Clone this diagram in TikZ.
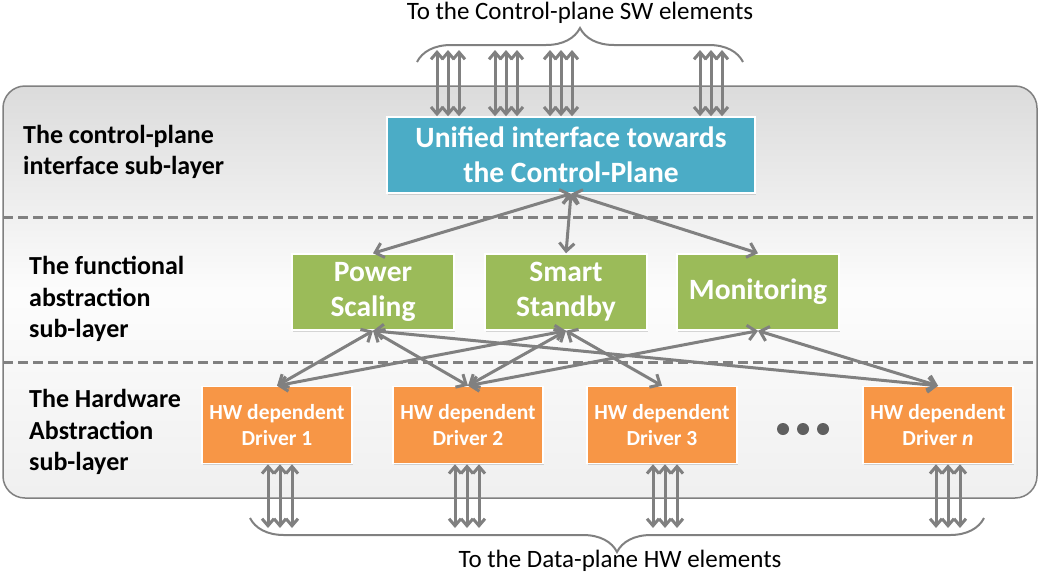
\documentclass[tikz,border=0pt]{standalone}
\usepackage{fontspec}
\setmainfont{Carlito}
\usetikzlibrary{arrows.meta,shadows,decorations.pathreplacing}
\definecolor{cpblue}{HTML}{4BACC6}
\definecolor{fagreen}{HTML}{9BBB59}
\definecolor{hworange}{HTML}{F79646}
\definecolor{linegray}{HTML}{808080}
\definecolor{dotgray}{HTML}{5F5F5F}

\begin{document}
\begin{tikzpicture}[x=1pt,y=-1pt,
  box/.style={draw=white,line width=1.5pt,text=white,align=center,inner sep=0pt,
    drop shadow={shadow xshift=1pt,shadow yshift=-1.5pt,opacity=.3}},
  cpbox/.style={box,fill=cpblue,minimum width=368pt,minimum height=76pt,
    font=\bfseries\fontsize{29.5}{35}\selectfont},
  fabox/.style={box,fill=fagreen,minimum width=162pt,minimum height=76pt,
    font=\bfseries\fontsize{29.5}{35}\selectfont},
  hwbox/.style={box,fill=hworange,minimum width=150pt,minimum height=77pt,
    font=\bfseries\fontsize{21.5}{26}\selectfont},
  layertxt/.style={anchor=west,align=left,inner sep=0pt,font=\bfseries\fontsize{26}{31.5}\selectfont},
  captext/.style={inner sep=0pt,font=\fontsize{25}{30}\selectfont},
  conn/.style={<->,>={Straight Barb[length=8pt,width=15pt]},line width=3pt,draw=linegray},
  bus/.style={<->,>={Straight Barb[length=7pt,width=12pt]},line width=3pt,draw=linegray},
  brace/.style={decorate,decoration={brace,amplitude=34pt},line width=2pt,draw=linegray},
  sep/.style={draw=linegray,line width=3pt,dash pattern=on 10pt off 5pt}]
\useasboundingbox (0,0) rectangle (1040,574);
%\draw[help lines,step=50] (0,0) grid (1040,574);
% fond des trois sous-couches
\draw[linegray,line width=1.5pt,rounded corners=22pt,shading=axis,
  top color=black!14,bottom color=black!6,middle color=black!1] (3,86) rectangle (1037,498);
\draw[sep] (3,217) -- (1037,217);
\draw[sep] (3,362) -- (1037,362);
\node[layertxt] (lcp) at (23,152) {The control-plane\\interface sub-layer};
\node[layertxt] (lfa) at (29,299) {The functional\\abstraction\\sub-layer};
\node[layertxt] (lhw) at (29,432) {The Hardware\\Abstraction\\sub-layer};
% boites
\node[cpbox] (uni) at (571,155) {Unified interface towards\\the Control-Plane};
\node[fabox] (ps) at (373,292) {Power\\Scaling};
\node[fabox] (ss) at (566,292) {Smart\\Standby};
\node[fabox] (mon) at (758,292) {Monitoring};
\node[hwbox] (d1) at (277,425) {HW dependent\\Driver 1};
\node[hwbox] (d2) at (468,425) {HW dependent\\Driver 2};
\node[hwbox] (d3) at (662,425) {HW dependent\\Driver 3};
\node[hwbox] (dn) at (938,425) {HW dependent\\Driver \textit{n}};
\foreach \x in {783,803,823} \fill[dotgray] (\x,429) circle[radius=6pt];
% liens
\draw[conn] (uni.south) -- (ps.north);
\draw[conn] (uni.south) -- (ss.north);
\draw[conn] (uni.south) -- (mon.north);
\draw[conn] (ps.south) -- (d1.north);
\draw[conn] (ps.south) -- (d2.north);
\draw[conn] (ps.south) -- (dn.north);
\draw[conn] (ss.south) -- (d1.north);
\draw[conn] (ss.south) -- (d2.north);
\draw[conn] (ss.south) -- (d3.north);
\draw[conn] (mon.south) -- (d2.north);
\draw[conn] (mon.south) -- (dn.north);
% vers le plan de controle et le plan de donnees
\foreach \c in {448,506,561,711}
  \foreach \dx in {-11,0,11} {
    \coordinate (top) at (\c+\dx,50);
    \draw[bus] (top) -- (top |- uni.north);
  }
\foreach \c/\drv in {280/d1,467/d2,665/d3,948/dn}
  \foreach \dx in {-12,0,12} {
    \coordinate (bot) at (\c+\dx,528);
    \draw[bus] (bot |- \drv.south) -- (bot);
  }
\coordinate (cbl) at (417,62);
\coordinate (cbr) at (743,62);
\draw[brace] (cbl) -- (cbr);
\node[captext] (cptxt) at (580,13) {To the Control-plane SW elements};
\coordinate (dbr) at (984,518);
\coordinate (dbl) at (250,518);
\draw[brace] (dbr) -- (dbl);
\node[captext] (dptxt) at (620,561) {To the Data-plane HW elements};
\end{tikzpicture}
\end{document}
